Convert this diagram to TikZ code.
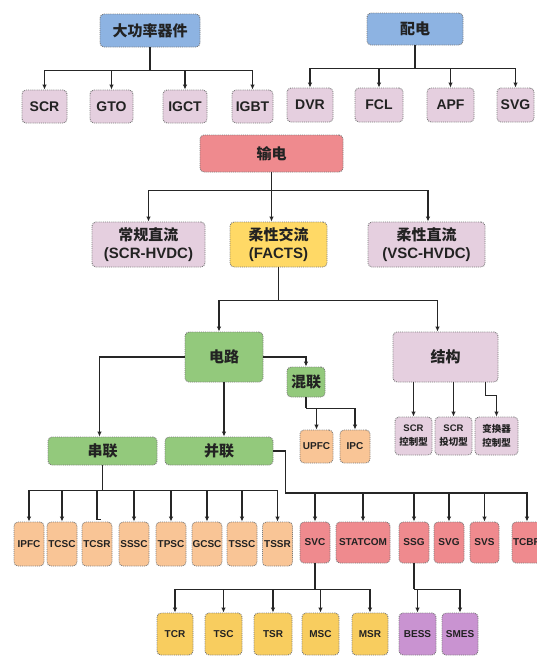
\documentclass[tikz,border=0pt]{standalone}
\usepackage{fontspec}
\setmainfont{Liberation Sans}
\newfontfamily\zhfont{Noto Sans CJK SC}
\usetikzlibrary{arrows.meta}
\definecolor{cblue}{HTML}{8DB3E2}
\definecolor{cpink}{HTML}{E5CFDF}
\definecolor{cred}{HTML}{EF8A8E}
\definecolor{cyellow}{HTML}{FFD966}
\definecolor{cgold}{HTML}{F8CD5F}
\definecolor{cgreen}{HTML}{93C97C}
\definecolor{corange}{HTML}{F9C596}
\definecolor{cpurple}{HTML}{C993D1}
\definecolor{cborder}{HTML}{7A7A7A}
\definecolor{ctext}{HTML}{222222}
\begin{document}
\begin{tikzpicture}[x=1pt,y=-1pt,
  box/.style={draw=cborder, densely dotted, line width=0.9pt, rounded corners=4pt,
    inner sep=0pt, align=center, text=ctext},
  zhbig/.style={font=\zhfont\bfseries\fontsize{15}{18}\selectfont},
  latbig/.style={font=\bfseries\fontsize{14}{17}\selectfont},
  latsmall/.style={font=\bfseries\fontsize{10}{12}\selectfont},
  tiny/.style={font=\bfseries\fontsize{9.5}{14}\selectfont},
  line/.style={draw=black!85, line width=1.1pt},
  arr/.style={line, -{Latex[length=5pt,width=4.5pt]}}]
\useasboundingbox (0,0) rectangle (537,657);
\clip (0,0) rectangle (537,657);
\fill[white] (0,0) rectangle (537,657);

% ---- top left
\node[box, zhbig, fill=cblue, minimum width=100pt, minimum height=33pt] (dagong) at (150,30.5) {大功率器件};
\node[box, latbig, fill=cpink, minimum width=45pt, minimum height=33pt] (scr) at (44.5,106.5) {SCR};
\node[box, latbig, fill=cpink, minimum width=43pt, minimum height=33pt] (gto) at (111.5,106.5) {GTO};
\node[box, latbig, fill=cpink, minimum width=44pt, minimum height=33pt] (igct) at (185,106.5) {IGCT};
\node[box, latbig, fill=cpink, minimum width=41pt, minimum height=33pt] (igbt) at (252.5,106.5) {IGBT};
\draw[line] (dagong.south) -- ++(0,23) coordinate (t1);
\foreach \n in {scr,gto,igct,igbt} \draw[arr] (t1) -| (\n.north);

% ---- top right
\node[box, zhbig, fill=cblue, minimum width=96pt, minimum height=32pt] (peidian) at (415,29) {配电};
\node[box, latbig, fill=cpink, minimum width=46pt, minimum height=34pt] (dvr) at (310,105) {DVR};
\node[box, latbig, fill=cpink, minimum width=48pt, minimum height=34pt] (fcl) at (379,105) {FCL};
\node[box, latbig, fill=cpink, minimum width=47pt, minimum height=34pt] (apf) at (450.5,105) {APF};
\node[box, latbig, fill=cpink, minimum width=37pt, minimum height=34pt] (svgt) at (515.5,105) {SVG};
\draw[line] (peidian.south) -- ++(0,23) coordinate (t2);
\foreach \n in {dvr,fcl,apf,svgt} \draw[arr] (t2) -| (\n.north);

% ---- transmission
\node[box, zhbig, fill=cred, minimum width=143pt, minimum height=37pt] (shudian) at (271.5,153.5) {输电};
\node[box, zhbig, fill=cpink, minimum width=113pt, minimum height=45pt] (cgzl) at (148.5,244.5) {常规直流\\{\rmfamily\bfseries (SCR-HVDC)}};
\node[box, zhbig, fill=cyellow, minimum width=97pt, minimum height=45pt] (facts) at (278.5,244.5) {柔性交流\\{\rmfamily\bfseries (FACTS)}};
\node[box, zhbig, fill=cpink, minimum width=117pt, minimum height=45pt] (rxzl) at (426.5,244.5) {柔性直流\\{\rmfamily\bfseries (VSC-HVDC)}};
\draw[line] (shudian.south) -- ++(0,18) coordinate (t3);
\draw[arr] (t3) -| (cgzl.north);
\draw[arr] (t3) -| ([xshift=1.5pt]rxzl.north);
\draw[arr] (t3) -- (t3 |- facts.north);

% ---- FACTS
\node[box, zhbig, fill=cgreen, minimum width=78pt, minimum height=50pt] (dianlu) at (224,357) {电路};
\node[box, zhbig, fill=cpink, minimum width=105pt, minimum height=50pt] (jiegou) at (445.5,357) {结构};
\draw[line] (facts.south) -- ++(0,33) coordinate (t4);
\draw[arr] (t4) -| ([xshift=-5pt]dianlu.north);
\draw[arr] (t4) -| ([xshift=-8pt]jiegou.north);

% ---- structure children
\node[box, tiny, fill=cpink, minimum width=37pt, minimum height=38pt] (s1) at (413.5,436) {SCR\\{\zhfont 控制型}};
\node[box, tiny, fill=cpink, minimum width=37pt, minimum height=38pt] (s2) at (453.5,436) {SCR\\{\zhfont 投切型}};
\node[box, tiny, fill=cpink, minimum width=43pt, minimum height=38pt] (s3) at (496.5,436) {{\zhfont 变换器}\\{\zhfont 控制型}};
\draw[arr] (jiegou.south -| s1.north) -- (s1.north);
\draw[arr] (jiegou.south -| s2.north) -- (s2.north);
\draw[arr] ([xshift=40pt]jiegou.south) -- ++(0,13) -| (s3.north);

% ---- circuit children
\node[box, zhbig, fill=cgreen, minimum width=109pt, minimum height=28pt] (chuan) at (102.5,451) {串联};
\node[box, zhbig, fill=cgreen, minimum width=108pt, minimum height=28pt] (bing) at (219,451) {并联};
\node[box, zhbig, fill=cgreen, minimum width=38pt, minimum height=30pt] (hun) at (306,382) {混联};
\draw[arr] (dianlu.west) -| ([xshift=-3pt]chuan.north);
\draw[arr] (dianlu.south) -- (dianlu.south |- bing.north);
\draw[arr] (dianlu.east) -| (hun.north);

% ---- hybrid
\node[box, latsmall, fill=corange, minimum width=33pt, minimum height=33pt] (upfc) at (316.5,446.5) {UPFC};
\node[box, latsmall, fill=corange, minimum width=30pt, minimum height=33pt] (ipc) at (355,446.5) {IPC};
\draw[line] (hun.south) -- ++(0,11) coordinate (h1);
\draw[arr] (h1) -| (upfc.north);
\draw[arr] (h1) -| (ipc.north);

% ---- series row
\foreach \n/\x/\t in {ipfc/29/IPFC, tcsc/62/TCSC, tcsr/97/TCSR, sssc/134/SSSC, tpsc/171/TPSC, gcsc/207/GCSC, tssc/242/TSSC, tssr/277.5/TSSR}
  \node[box, latsmall, fill=corange, minimum width=30pt, minimum height=44pt] (\n) at (\x,544) {\t};
\draw[line] (chuan.south) -- ++(0,25) coordinate (c1);
\foreach \n in {ipfc,tcsc,sssc,tpsc,gcsc,tssc,tssr} \draw[arr] (c1) -| (\n.north);
\draw[line] (c1) -| ([yshift=2pt]tcsr.north) -- ++(4,0);

% ---- parallel row
\foreach \n/\x/\w/\t in {svc/315/30/SVC, statcom/363/54/STATCOM, ssg/414/30/SSG, svgb/449/30/SVG, svs/484.5/29/SVS, tcbr/527/30/TCBR}
  \node[box, latsmall, fill=cred, minimum width=\w pt, minimum height=41pt] (\n) at (\x,542.5) {\t};
\draw[line] (bing.east) -- ++(12,0) coordinate (p0) -- ++(0,42) coordinate (p1);
\foreach \n in {svc,statcom,ssg,svgb,svs,tcbr} \draw[arr] (p1) -| (\n.north);

% ---- SVC children
\foreach \n/\x/\w/\t in {tcr/175/36/TCR, tsc/223.5/37/TSC, tsr/273/38/TSR, msc/320.5/37/MSC, msr/370/36/MSR}
  \node[box, latsmall, fill=cgold, minimum width=\w pt, minimum height=42pt] (\n) at (\x,634) {\t};
\draw[line] (svc.south) -- ++(0,26) coordinate (v1);
\foreach \n in {tcr,tsc,tsr,msc,msr} \draw[arr] (v1) -| (\n.north);

% ---- SSG children
\node[box, latsmall, fill=cpurple, minimum width=37pt, minimum height=42pt] (bess) at (417.5,634) {BESS};
\node[box, latsmall, fill=cpurple, minimum width=36pt, minimum height=42pt] (smes) at (460,634) {SMES};
\draw[line] (ssg.south) -- ++(0,26) coordinate (g1);
\draw[arr] (g1) -| (bess.north);
\draw[arr] (g1) -| (smes.north);
\end{tikzpicture}
\end{document}
